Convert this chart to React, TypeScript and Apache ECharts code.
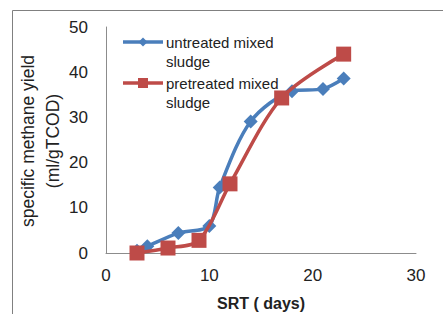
import React, { useEffect, useRef } from "react";
import * as echarts from "echarts";

const untreatedX = [3, 4, 7, 10, 11, 14, 18, 21, 23];
const untreatedY = [0.5, 1.5, 4.4, 6.0, 14.5, 29.1, 35.8, 36.3, 38.6];
const pretreatedX = [3, 6, 9, 12, 17, 23];
const pretreatedY = [0, 1.1, 2.8, 15.3, 34.3, 44.0];
const xTicks = [0, 10, 20, 30];
const yTicks = [0, 10, 20, 30, 40, 50];
const seriesNames = ["untreated mixed\nsludge", "pretreated mixed\nsludge"];
const xTitle = "SRT ( days)";
const yTitle = "specific methane yield\n(ml/gTCOD)";

const BLUE = "#4A7EBB";
const RED = "#BE4B48";
const FONT = "Liberation Sans";

export default function App() {
  const ref = useRef<HTMLDivElement>(null);
  useEffect(() => {
    if (!ref.current) return;
    const chart = echarts.init(ref.current, undefined, { renderer: "svg" });
    const pair = (xs: number[], ys: number[]) => xs.map((x, i) => [x, ys[i]]);
    chart.setOption({
      animation: false,
      backgroundColor: "#ffffff",
      grid: { left: 106, top: 27, right: 27, bottom: 61, containLabel: false },
      xAxis: {
        type: "value",
        min: xTicks[0],
        max: xTicks[xTicks.length - 1],
        interval: 10,
        axisLine: { show: true, onZero: false, lineStyle: { color: "#8c8c8c", width: 1 } },
        axisTick: { show: false },
        splitLine: { show: false },
        axisLabel: { color: "#222", fontFamily: FONT, fontSize: 17, margin: 14 },
      },
      yAxis: {
        type: "value",
        min: yTicks[0],
        max: yTicks[yTicks.length - 1],
        interval: 10,
        axisLine: { show: true, lineStyle: { color: "#8c8c8c", width: 1 } },
        axisTick: { show: false },
        splitLine: { show: false },
        axisLabel: { color: "#222", fontFamily: FONT, fontSize: 17, margin: 18 },
      },
      series: [
        {
          name: seriesNames[0],
          type: "line",
          smooth: 0.3,
          data: pair(untreatedX, untreatedY),
          symbol: "diamond",
          symbolSize: 14,
          lineStyle: { color: BLUE, width: 3.5 },
          itemStyle: { color: BLUE },
          z: 2,
        },
        {
          name: seriesNames[1],
          type: "line",
          smooth: 0.3,
          data: pair(pretreatedX, pretreatedY),
          symbol: "rect",
          symbolSize: 15,
          lineStyle: { color: RED, width: 3.5 },
          itemStyle: { color: RED },
          z: 3,
        },
      ],
      graphic: [
        {
          type: "rect",
          shape: { x: 12.5, y: 10.5, width: 480, height: 360 },
          style: { stroke: "#808080", lineWidth: 1, fill: "transparent" },
        },
        {
          type: "text",
          x: 40,
          y: 141,
          rotation: Math.PI / 2,
          style: {
            text: yTitle,
            fontFamily: FONT,
            fontSize: 17.5,
            lineHeight: 25,
            fill: "#222",
            align: "center",
            verticalAlign: "middle",
          },
        },
        {
          type: "text",
          x: 261,
          y: 303,
          style: {
            text: xTitle,
            fontFamily: FONT,
            fontSize: 16,
            fontWeight: "bold",
            fill: "#222",
            align: "center",
            verticalAlign: "middle",
          },
        },
        {
          type: "line",
          shape: { x1: 123, y1: 42, x2: 163, y2: 42 },
          style: { stroke: BLUE, lineWidth: 3.5 },
        },
        {
          type: "polygon",
          shape: { points: [[143, 37.5], [147.5, 42], [143, 46.5], [138.5, 42]] },
          style: { fill: BLUE },
        },
        {
          type: "text",
          x: 166,
          y: 33,
          style: {
            text: seriesNames[0],
            fontFamily: FONT,
            fontSize: 15,
            lineHeight: 19,
            fill: "#222",
            verticalAlign: "top",
          },
        },
        {
          type: "line",
          shape: { x1: 123, y1: 83, x2: 163, y2: 83 },
          style: { stroke: RED, lineWidth: 3.5 },
        },
        {
          type: "rect",
          shape: { x: 138, y: 78, width: 10, height: 10 },
          style: { fill: RED },
        },
        {
          type: "text",
          x: 166,
          y: 74,
          style: {
            text: seriesNames[1],
            fontFamily: FONT,
            fontSize: 15,
            lineHeight: 19,
            fill: "#222",
            verticalAlign: "top",
          },
        },
      ],
    });
    return () => chart.dispose();
  }, []);
  return (
    <div
      style={{
        position: "absolute",
        left: 0,
        top: 0,
        width: 443,
        height: 314,
        overflow: "hidden",
        background: "#fff",
      }}
    >
      <div ref={ref} style={{ position: "absolute", left: 0, top: 0, width: 443, height: 314 }} />
    </div>
  );
}
